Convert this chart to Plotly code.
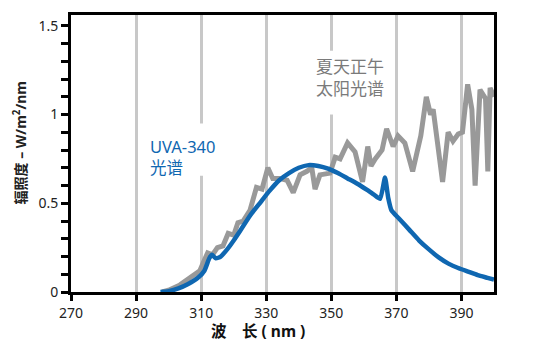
import plotly.graph_objects as go

# UVA-340 lamp spectrum (blue)
uva_nm = [297.5, 300, 303, 306, 309, 311, 312.5, 313.3, 314.5, 316, 318, 320, 322, 325, 328, 331, 334, 337,
          340, 343, 346, 349, 352, 355, 358, 361, 363, 365, 366.5, 367.5, 368.5, 371, 374, 377, 380, 383,
          386, 389, 392, 395, 398, 400]
uva_val = [0, 0.005, 0.02, 0.045, 0.08, 0.12, 0.19, 0.21, 0.19, 0.20, 0.24, 0.29, 0.345, 0.43, 0.50, 0.57, 0.63, 0.67,
           0.70, 0.715, 0.71, 0.695, 0.67, 0.64, 0.61, 0.575, 0.55, 0.525, 0.645, 0.53, 0.46, 0.41, 0.35, 0.29, 0.24, 0.195,
           0.16, 0.135, 0.115, 0.095, 0.08, 0.07]

# Summer noon sunlight spectrum (gray)
sun_nm = [298, 300, 303.5, 306, 307.5, 309.6, 311, 312, 313.5, 315, 316.7, 318.3, 320, 321.3, 322.9, 325, 327, 328.7,
          330.5, 332, 334, 336.4, 338.3, 340.4, 342.5, 344, 345, 346.5, 349.6, 351.2, 352.7, 355, 357.3, 359.6,
          361.2, 362.2, 363.5, 365.6, 367, 369, 370.5, 372.6, 375, 377.5, 379.2, 380.5, 381.3, 382, 384.2, 385.9,
          387.4, 389, 390.3, 391.9, 393.2, 394.2, 395.7, 397.4, 398.1, 398.8, 400]
sun_val = [0, 0.01, 0.04, 0.07, 0.095, 0.12, 0.18, 0.22, 0.21, 0.25, 0.26, 0.33, 0.32, 0.39, 0.40, 0.46, 0.59, 0.58,
           0.70, 0.64, 0.64, 0.63, 0.56, 0.66, 0.68, 0.70, 0.58, 0.66, 0.67, 0.76, 0.75, 0.84, 0.79, 0.62,
           0.82, 0.71, 0.75, 0.80, 0.92, 0.82, 0.88, 0.84, 0.68, 0.88, 1.10, 1.0, 1.03, 0.93, 0.62, 0.90,
           0.85, 0.89, 0.90, 1.17, 1.03, 0.60, 1.14, 1.09, 0.68, 1.15, 1.10]

x_ticks = [270, 290, 310, 330, 350, 370, 390]
y_ticks = [0, 0.5, 1, 1.5]
y_ticktext = ["0", "0.5", "1", "1.5"]

FONT = "Noto Sans, Noto Sans CJK SC, sans-serif"
BLUE = "#0f67b1"
GRAY = "#999999"

fig = go.Figure()
fig.add_trace(go.Scatter(x=sun_nm, y=sun_val, mode="lines",
                         line=dict(color=GRAY, width=5), showlegend=False))
fig.add_trace(go.Scatter(x=uva_nm, y=uva_val, mode="lines",
                         line=dict(color=BLUE, width=4.5, shape="spline", smoothing=0.5), showlegend=False))

# white boxes behind labels (interrupt gridlines)
fig.add_shape(type="rect", x0=342, x1=369, y0=1.0, y1=1.36, xref="x", yref="y",
              fillcolor="white", line=dict(width=0), layer="between")
fig.add_shape(type="rect", x0=292.7, x1=318, y0=0.655, y1=0.95, xref="x", yref="y",
              fillcolor="white", line=dict(width=0), layer="between")

fig.add_annotation(x=355.7, y=1.21, xref="x", yref="y", text="夏天正午<br>太阳光谱",
                   xanchor="center", yanchor="middle", align="left", showarrow=False,
                   font=dict(family=FONT, size=17, color="#7a7a7a"))
fig.add_annotation(x=293.6, y=0.758, xref="x", yref="y", text="UVA-340<br>光谱",
                   xanchor="left", yanchor="middle", align="left", showarrow=False,
                   font=dict(family=FONT, size=16.5, color=BLUE))

fig.add_annotation(x=-0.12, y=0.537, xref="paper", yref="paper", textangle=-90,
                   xanchor="center", yanchor="middle",
                   text="<b>辐照度 – W/m<sup>2</sup>/nm</b>", showarrow=False,
                   font=dict(family=FONT, size=14, color="#222"))
fig.add_annotation(x=0.442, y=-0.14, xref="paper", yref="paper", xanchor="center", yanchor="middle",
                   text="<b>波　长 ( nm )</b>", showarrow=False,
                   font=dict(family=FONT, size=15.5, color="#111"))

fig.update_layout(
    width=544, height=352,
    margin=dict(l=71, r=50, t=13, b=60),
    paper_bgcolor="white", plot_bgcolor="white",
    font=dict(family=FONT, size=14, color="#222"),
    xaxis=dict(range=[270, 400], tickvals=x_ticks, ticks="outside", ticklen=6, tickwidth=3,
               tickcolor="black", showline=True, linewidth=3, linecolor="black", mirror=True,
               showgrid=True, gridcolor="#c8c8c8", gridwidth=3, zeroline=False,
               tickfont=dict(size=14, color="#222")),
    yaxis=dict(range=[0, 1.561], tickvals=y_ticks, ticktext=y_ticktext, ticks="outside", ticklen=7,
               tickwidth=3, tickcolor="black", showline=True, linewidth=3, linecolor="black", mirror=True,
               showgrid=False, zeroline=False, tickfont=dict(size=14, color="#222"),
               minor=dict(dtick=0.1, ticks="outside", ticklen=7, tickwidth=3, tickcolor="black", showgrid=False)),
)

fig.write_html("out.html")
